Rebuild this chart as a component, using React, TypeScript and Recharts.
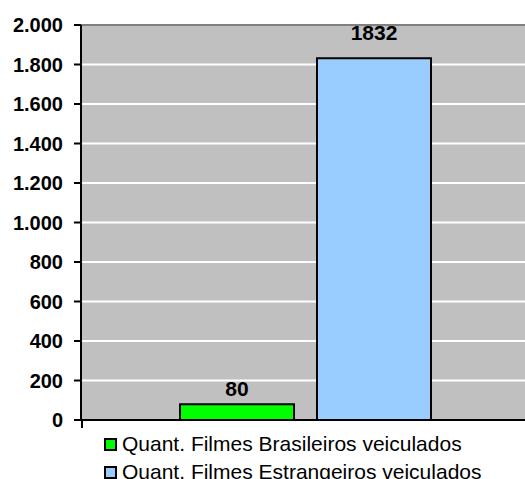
import { Bar, BarChart, CartesianGrid, LabelList, ReferenceLine, XAxis, YAxis } from "recharts"

const categories = ["Filmes"]
const seriesNames = ["Quant. Filmes Brasileiros veiculados", "Quant. Filmes Estrangeiros veiculados"]
const brasileiros = [80]
const estrangeiros = [1832]
const seriesColors = ["#00FF00", "#99CCFF"]
const yTicks = [0, 200, 400, 600, 800, 1000, 1200, 1400, 1600, 1800, 2000]

const data = categories.map((name, i) => ({
  name,
  brasileiros: brasileiros[i],
  estrangeiros: estrangeiros[i],
}))

const fmt = (v: number) => v.toLocaleString("de-DE")
const font = "'Liberation Sans', Arial, sans-serif"

export default function App() {
  return (
    <div style={{ position: "absolute", left: 0, top: 0, width: 525, height: 479, overflow: "hidden", background: "#fff", fontFamily: font }}>
      <BarChart
        width={530}
        height={436}
        data={data}
        margin={{ top: 25, right: 0, bottom: 8, left: 0 }}
        barSize={114}
        barGap={23}
      >
        <CartesianGrid fill="#C0C0C0" stroke="#FFFFFF" strokeWidth={2} vertical={false} />
        <ReferenceLine y={2000} stroke="#808080" strokeWidth={2} />
        <XAxis dataKey="name" tick={false} axisLine={{ stroke: "#000", strokeWidth: 2 }} tickLine={false} height={8} />
        <YAxis
          domain={[0, 2000]}
          ticks={yTicks}
          interval={0}
          width={81}
          tickFormatter={fmt}
          axisLine={{ stroke: "#000", strokeWidth: 2 }}
          tickLine={{ stroke: "#000", strokeWidth: 2 }}
          tickSize={7}
          tickMargin={11}
          tick={{ fill: "#000", fontSize: 20, fontWeight: "bold", fontFamily: font }}
        />
        <Bar dataKey="brasileiros" fill={seriesColors[0]} stroke="#000" strokeWidth={2} isAnimationActive={false}>
          <LabelList dataKey="brasileiros" position="top" offset={8} fill="#000" fontSize={21} fontWeight="bold" fontFamily={font} />
        </Bar>
        <Bar dataKey="estrangeiros" fill={seriesColors[1]} stroke="#000" strokeWidth={2} isAnimationActive={false}>
          <LabelList dataKey="estrangeiros" position="top" offset={18} fill="#000" fontSize={21} fontWeight="bold" fontFamily={font} />
        </Bar>
      </BarChart>
      <div style={{ position: "absolute", left: 81, top: 420, width: 2, height: 8, background: "#000" }} />
      <div style={{ position: "absolute", left: 104, top: 430 }}>
        {seriesNames.map((n, i) => (
          <div key={n} style={{ display: "flex", alignItems: "center", height: 28, fontSize: 21, color: "#000", whiteSpace: "nowrap" }}>
            <span style={{ width: 9, height: 9, background: seriesColors[i], border: "2px solid #000", marginRight: 5, flex: "none" }} />
            <span>{n}</span>
          </div>
        ))}
      </div>
    </div>
  )
}
